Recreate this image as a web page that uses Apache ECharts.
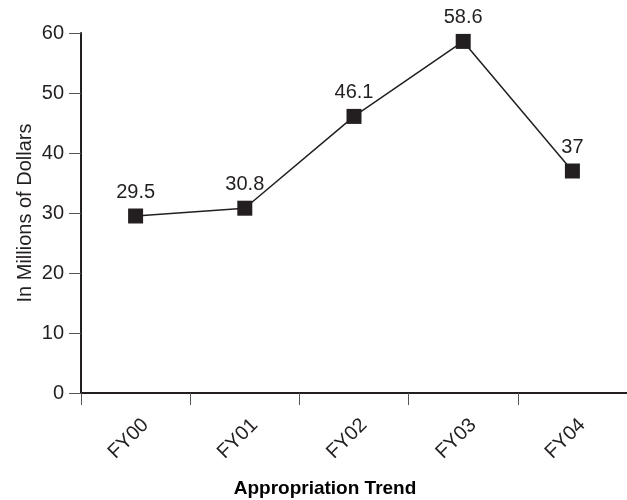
<!DOCTYPE html>
<html><head><meta charset="utf-8">
<script src="https://cdn.jsdelivr.net/npm/echarts@6/dist/echarts.min.js"></script>
<style>html,body{margin:0;padding:0;background:#fff}#c{width:627px;height:500px}</style>
</head><body><div id="c"></div>
<script>
const categories = ["FY00","FY01","FY02","FY03","FY04"];
const values = [29.5, 30.8, 46.1, 58.6, 37];
const yTicks = [0,10,20,30,40,50,60];
const FONT = '"Liberation Sans", Arial, sans-serif';
const ink = '#231f20';
const chart = echarts.init(document.getElementById('c'));
chart.setOption({
  animation:false,
  title:{text:'Appropriation Trend',left:320,top:474,textAlign:'center',
    textStyle:{fontFamily:FONT,fontSize:19,fontWeight:'bold',color:'#000'}},
  grid:{left:81,top:33,width:547,height:360},
  xAxis:{type:'category',data:categories,boundaryGap:true,
    axisLine:{lineStyle:{color:ink,width:2}},
    axisTick:{show:true,alignWithLabel:false,length:12,lineStyle:{color:'#555',width:1}},
    axisLabel:{rotate:45,fontFamily:FONT,fontSize:20,color:ink,margin:19,verticalAlign:'top',padding:[4,0,0,0]}},
  yAxis:{type:'value',min:yTicks[0],max:yTicks[yTicks.length-1],interval:10,
    splitLine:{show:false},
    axisLine:{show:true,lineStyle:{color:ink,width:2}},
    axisTick:{show:true,length:12,lineStyle:{color:'#555',width:1}},
    axisLabel:{fontFamily:FONT,fontSize:20,color:ink,margin:17},
    name:'In Millions of Dollars',nameLocation:'middle',nameGap:46,nameMoveOverlap:false,
    nameTextStyle:{fontFamily:FONT,fontSize:20,color:ink}},
  series:[{type:'line',data:values,symbol:'rect',symbolSize:15,
    itemStyle:{color:ink},lineStyle:{color:ink,width:1.5},
    label:{show:true,position:'top',distance:6,fontFamily:FONT,fontSize:20,color:ink}}]
});
</script></body></html>
